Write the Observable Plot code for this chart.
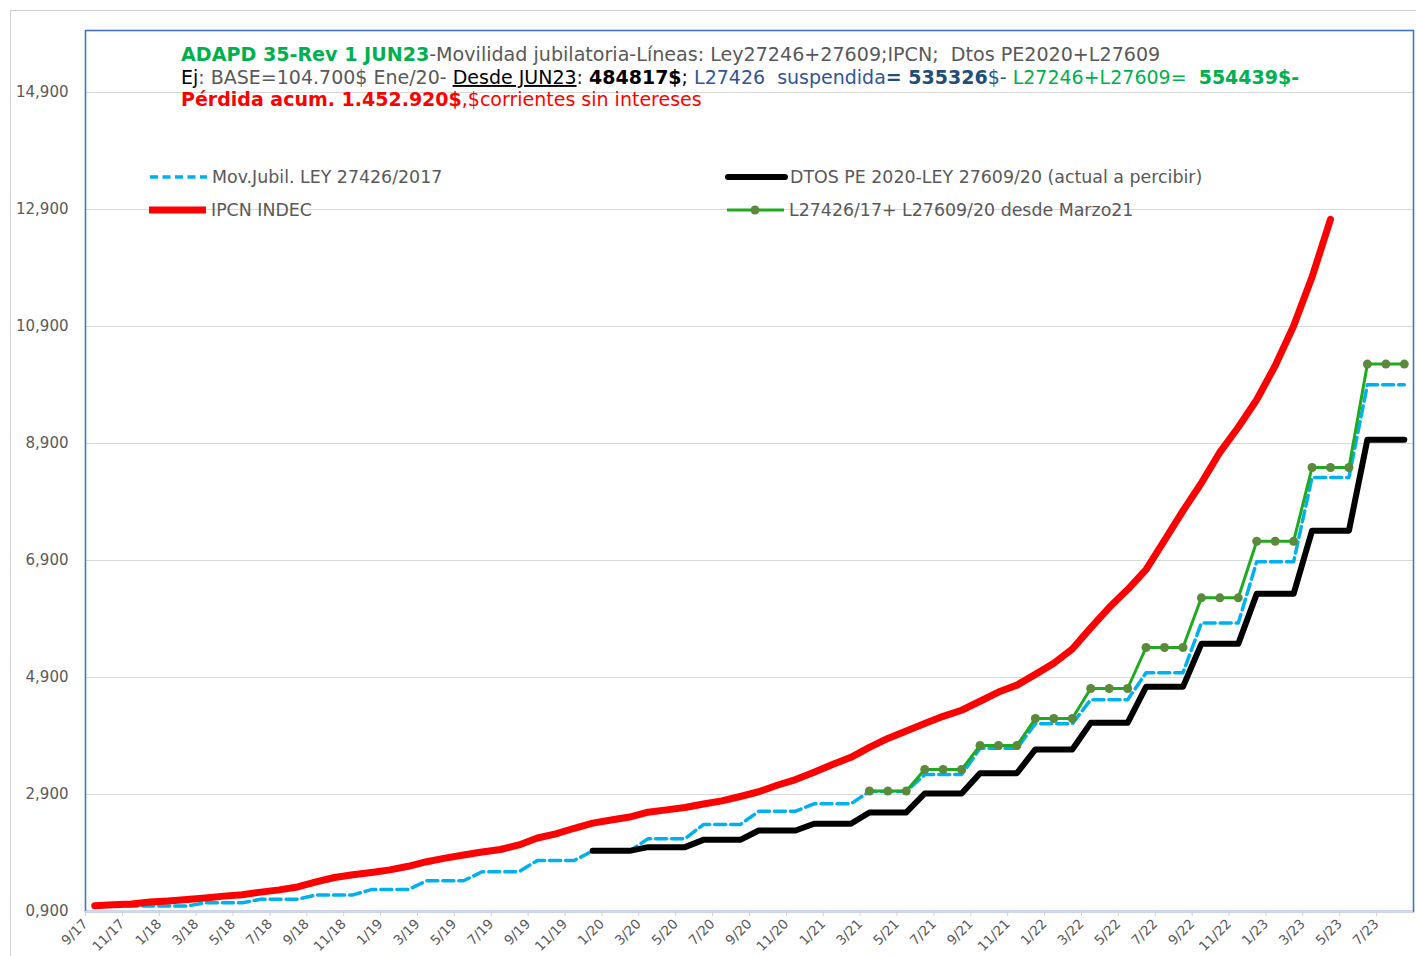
<!DOCTYPE html>
<html><head><meta charset="utf-8">
<script src="https://cdn.jsdelivr.net/npm/d3@7"></script>
<script src="https://cdn.jsdelivr.net/npm/@observablehq/plot@0.6"></script>
<style>html,body{margin:0;padding:0;background:#fff;} svg{display:block}</style>
</head><body><div id="chart"></div>
<script>
// Month categories (Sep 2017 .. Aug 2023)
const months = [
  "9/17","10/17","11/17","12/17",
  "1/18","2/18","3/18","4/18","5/18","6/18","7/18","8/18","9/18","10/18","11/18","12/18",
  "1/19","2/19","3/19","4/19","5/19","6/19","7/19","8/19","9/19","10/19","11/19","12/19",
  "1/20","2/20","3/20","4/20","5/20","6/20","7/20","8/20","9/20","10/20","11/20","12/20",
  "1/21","2/21","3/21","4/21","5/21","6/21","7/21","8/21","9/21","10/21","11/21","12/21",
  "1/22","2/22","3/22","4/22","5/22","6/22","7/22","8/22","9/22","10/22","11/22","12/22",
  "1/23","2/23","3/23","4/23","5/23","6/23","7/23","8/23"
];
// IPCN INDEC (red)
const ipcn = [
  1.000,1.015,1.029,1.061,
  1.080,1.106,1.132,1.163,1.187,1.231,1.270,1.319,1.405,1.481,1.528,1.567,
  1.612,1.673,1.751,1.812,1.867,1.918,1.960,2.038,2.157,2.228,2.323,2.410,
  2.465,2.514,2.598,2.637,2.678,2.738,2.791,2.866,2.947,3.058,3.155,3.281,
  3.414,3.536,3.706,3.858,3.986,4.112,4.236,4.340,4.494,4.652,4.770,4.953,
  5.145,5.386,5.749,6.096,6.404,6.743,7.243,7.748,8.225,8.748,9.178,9.648,
  10.229,10.907,11.745,12.731
];
// Mov.Jubil. LEY 27426/2017 (blue dashed)
const ley27426 = [
  0.993,0.993,0.993,0.993,
  0.993,0.993,1.049,1.049,1.049,1.109,1.109,1.109,1.183,1.183,1.183,1.275,
  1.275,1.275,1.426,1.426,1.426,1.579,1.579,1.579,1.772,1.772,1.772,1.937,
  1.937,1.937,2.143,2.143,2.143,2.387,2.387,2.387,2.614,2.614,2.614,2.741,
  2.741,2.741,2.951,2.951,2.951,3.240,3.240,3.240,3.690,3.690,3.690,4.110,
  4.110,4.110,4.520,4.520,4.520,4.980,4.980,4.980,5.830,5.830,5.830,6.880,
  6.880,6.880,8.320,8.320,8.320,9.904,9.904,9.904
];
// DTOS PE 2020-LEY 27609/20 (black)
const dtos = [
  null,null,null,null,
  null,null,null,null,null,null,null,null,null,null,null,null,
  null,null,null,null,null,null,null,null,null,null,null,1.937,
  1.937,1.937,2.000,2.000,2.000,2.125,2.125,2.125,2.285,2.285,2.285,2.400,
  2.400,2.400,2.593,2.593,2.593,2.917,2.917,2.917,3.265,3.265,3.265,3.670,
  3.670,3.670,4.125,4.125,4.125,4.740,4.740,4.740,5.475,5.475,5.475,6.330,
  6.330,6.330,7.410,7.410,7.410,8.965,8.965,8.965
];
// L27426/17 + L27609/20 desde Marzo21 (green)
const mixta = [
  null,null,null,null,
  null,null,null,null,null,null,null,null,null,null,null,null,
  null,null,null,null,null,null,null,null,null,null,null,null,
  null,null,null,null,null,null,null,null,null,null,null,null,
  null,null,2.960,2.960,2.960,3.327,3.327,3.327,3.738,3.738,3.738,4.199,
  4.199,4.199,4.712,4.712,4.712,5.413,5.413,5.413,6.262,6.262,6.262,7.230,
  7.230,7.230,8.490,8.490,8.490,10.257,10.257,10.257
];
const yTicks = [0.9, 2.9, 4.9, 6.9, 8.9, 10.9, 12.9, 14.9];
const yTickFormat = v => v.toFixed(3).replace(".", ",");
const labelledMonths = months.filter((m, i) => i % 2 === 0 && i <= 70);

const rows = months.map((m, i) => ({
  i, month: m,
  ipcn: i < ipcn.length ? ipcn[i] : null,
  ley27426: ley27426[i], dtos: dtos[i], mixta: mixta[i]
}));
// ticks sit on the category boundary before each labelled month
const xTicks = labelledMonths.map(m => months.indexOf(m) - 0.5);

const FONT = "DejaVu Sans";
const GRAY = "#595959";

const chart = Plot.plot({
  width: 1416, height: 956,
  marginLeft: 85, marginRight: 3, marginTop: 30, marginBottom: 45,
  x: {domain: [-0.5, months.length - 0.5], label: null},
  y: {domain: [0.9, 15.96], label: null},
  style: {fontFamily: FONT, background: "#fff"},
  marks: [
    Plot.gridY(yTicks, {stroke: "#d9d9d9", strokeOpacity: 1, strokeWidth: 1.2}),
    Plot.frame({stroke: "#4472c4", strokeWidth: 1.6}),
    Plot.ruleY([0.9], {stroke: "#d9d9d9", strokeWidth: 1.6}),
    Plot.axisY(yTicks, {tickSize: 0, tickPadding: 17, tickFormat: yTickFormat, fontSize: 15, fill: GRAY, label: null}),
    Plot.axisX(xTicks, {tickSize: 5, tickPadding: 5, stroke: "#d0d0d0", tickRotate: -45,
      tickFormat: t => months[Math.round(t + 0.5)], fontSize: 13.5, fill: GRAY, label: null}),
    Plot.line(rows, {x: "i", y: "ley27426", stroke: "#00b0f0", strokeWidth: 3.5, strokeDasharray: "11,5"}),
    Plot.line(rows, {x: "i", y: "dtos", stroke: "#000", strokeWidth: 6, strokeLinejoin: "round", strokeLinecap: "round"}),
    Plot.line(rows, {x: "i", y: "ipcn", stroke: "#ff0000", strokeWidth: 7, strokeLinejoin: "round"}),
    Plot.line(rows, {x: "i", y: "mixta", stroke: "#1faa1f", strokeWidth: 3}),
    Plot.dot(rows, {x: "i", y: "mixta", r: 4.5, fill: "#5b8a3c", stroke: "none"})
  ]
});

const svg = d3.select(chart);
// outer chart-area border
svg.insert("rect", ":first-child").attr("x", 10.5).attr("y", 10.5).attr("width", 1500).attr("height", 1000)
  .attr("fill", "none").attr("stroke", "#d0d0d0");

// Title block
const tg = svg.append("g").attr("font-family", FONT).attr("text-anchor", "start").style("white-space", "pre");
function textLine(y, size, parts) {
  const t = tg.append("text").attr("x", 181).attr("y", y).attr("font-size", size).attr("text-anchor", "start");
  for (const p of parts) {
    const s = t.append("tspan").text(p.t).attr("fill", p.c);
    if (p.b) s.attr("font-weight", "bold");
    if (p.u) s.style("text-decoration", "underline");
  }
}
textLine(61, 19.1, [
  {t: "ADAPD 35-Rev 1 JUN23", c: "#00b050", b: true},
  {t: "-Movilidad jubilatoria-Líneas: Ley27246+27609;IPCN;  Dtos PE2020+L27609", c: GRAY}
]);
textLine(84, 19, [
  {t: "Ej", c: "#000"},
  {t: ": BASE=104.700$ Ene/20- ", c: GRAY},
  {t: "Desde JUN23", c: "#000", u: true},
  {t: ": ", c: "#262626"},
  {t: "484817$", c: "#000", b: true},
  {t: "; ", c: "#000"},
  {t: "L27426  suspendida", c: "#2f5597"},
  {t: "= 535326", c: "#1f4e79", b: true},
  {t: "$- ", c: "#2f5597"},
  {t: "L27246+L27609=  ", c: "#00b050"},
  {t: "554439$-", c: "#00b050", b: true}
]);
textLine(106, 19, [
  {t: "Pérdida acum. 1.452.920$", c: "#ff0000", b: true},
  {t: ",$corrientes sin intereses", c: "#ff0000"}
]);

// Legend
const lg = svg.append("g").attr("font-family", FONT).attr("font-size", 17.4).attr("fill", GRAY).attr("text-anchor", "start");
const legendItems = [
  {label: "Mov.Jubil. LEY 27426/2017", x: 150, y: 177, stroke: "#00b0f0", w: 3.5, dash: "8,4.5", cap: "butt"},
  {label: "DTOS PE 2020-LEY 27609/20 (actual a percibir)", x: 728, y: 177, stroke: "#000", w: 6, cap: "round"},
  {label: "IPCN INDEC", x: 149, y: 210, stroke: "#ff0000", w: 7, cap: "butt"},
  {label: "L27426/17+ L27609/20 desde Marzo21", x: 727, y: 210, stroke: "#1faa1f", w: 3, cap: "butt", dot: "#5b8a3c"}
];
for (const it of legendItems) {
  lg.append("line").attr("x1", it.x).attr("x2", it.x + 57).attr("y1", it.y).attr("y2", it.y)
    .attr("stroke", it.stroke).attr("stroke-width", it.w).attr("stroke-linecap", it.cap)
    .attr("stroke-dasharray", it.dash || null);
  if (it.dot) lg.append("circle").attr("cx", it.x + 28).attr("cy", it.y).attr("r", 4.5).attr("fill", it.dot);
  lg.append("text").attr("x", it.x + 62).attr("y", it.y + 6).attr("text-anchor", "start").text(it.label);
}

document.getElementById("chart").appendChild(chart);
</script>
</body></html>
